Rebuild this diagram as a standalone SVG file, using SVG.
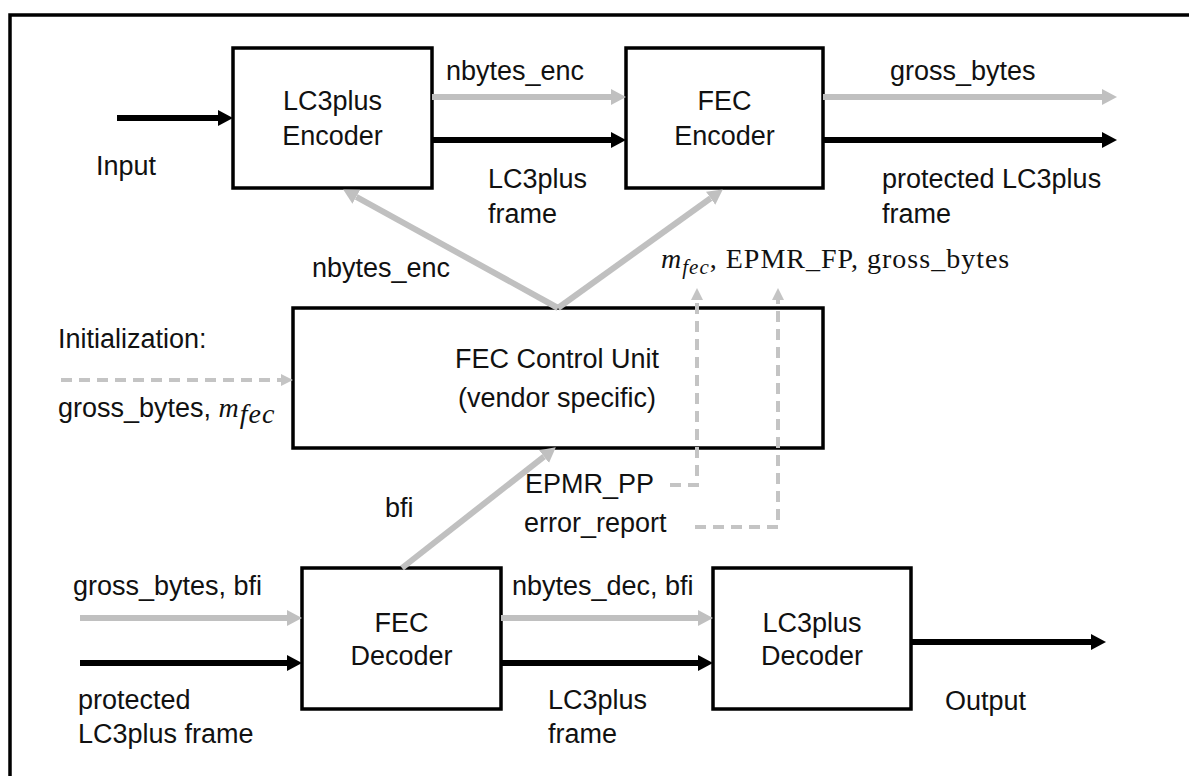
<svg xmlns="http://www.w3.org/2000/svg" width="1189" height="776" viewBox="0 0 1189 776">
<defs>
<style>
.box{fill:#fff;stroke:#000;stroke-width:3.5}
.t{font-family:"Liberation Sans",Arial,sans-serif;font-size:27px;fill:#111}
.c{text-anchor:middle}
.m{font-family:"Liberation Serif","Times New Roman",serif;font-size:28px;fill:#111}
.blk{stroke:#000;stroke-width:6;fill:none}
.gry{stroke:#c0c0c0;stroke-width:6;fill:none}
.dsh{stroke:#c4c4c4;stroke-width:4;fill:none;stroke-dasharray:11 7}
</style>
<marker id="ab" markerUnits="userSpaceOnUse" markerWidth="16" markerHeight="18" refX="0" refY="9" orient="auto"><path d="M0,1 L15,9 L0,17 z" fill="#000"/></marker>
<marker id="ag" markerUnits="userSpaceOnUse" markerWidth="16" markerHeight="18" refX="0" refY="9" orient="auto"><path d="M0,1 L15,9 L0,17 z" fill="#c0c0c0"/></marker>
<marker id="ad" markerUnits="userSpaceOnUse" markerWidth="14" markerHeight="14" refX="0" refY="7" orient="auto"><path d="M0,1 L12,7 L0,13 z" fill="#c4c4c4"/></marker>
</defs>
<rect width="1189" height="776" fill="#fff"/>
<path d="M10,776 L10,15 L1189,15" fill="none" stroke="#000" stroke-width="3.5"/>

<g id="lc3plus-encoder">
<rect class="box" x="233" y="48" width="199" height="140"/>
<text class="t c" x="332.5" y="110">LC3plus</text>
<text class="t c" x="332.5" y="145">Encoder</text>
</g>
<g id="fec-encoder">
<rect class="box" x="626" y="48" width="197" height="140"/>
<text class="t c" x="724.5" y="110">FEC</text>
<text class="t c" x="724.5" y="145">Encoder</text>
</g>
<g id="fec-control-unit">
<rect class="box" x="293" y="308" width="530" height="140"/>
<text class="t c" x="557" y="368">FEC Control Unit</text>
<text class="t c" x="557" y="407">(vendor specific)</text>
</g>
<g id="fec-decoder">
<rect class="box" x="302" y="568" width="199" height="141"/>
<text class="t c" x="401.5" y="632">FEC</text>
<text class="t c" x="401.5" y="665">Decoder</text>
</g>
<g id="lc3plus-decoder">
<rect class="box" x="713" y="568" width="198" height="141"/>
<text class="t c" x="812" y="632">LC3plus</text>
<text class="t c" x="812" y="665">Decoder</text>
</g>

<g id="connectors">
<line class="blk" x1="117" y1="118" x2="218" y2="118" marker-end="url(#ab)"/>
<line class="gry" x1="432" y1="97" x2="611" y2="97" marker-end="url(#ag)"/>
<line class="blk" x1="432" y1="140" x2="611" y2="140" marker-end="url(#ab)"/>
<line class="gry" x1="823" y1="97" x2="1102" y2="97" marker-end="url(#ag)"/>
<line class="blk" x1="823" y1="140" x2="1102" y2="140" marker-end="url(#ab)"/>
<line class="gry" x1="558" y1="308" x2="356.3" y2="196.8" marker-end="url(#ag)"/>
<line class="gry" x1="558" y1="308" x2="710.6" y2="198.2" marker-end="url(#ag)"/>
<line class="gry" x1="402" y1="568" x2="544" y2="456.6" marker-end="url(#ag)"/>
<line class="gry" x1="80" y1="618" x2="287" y2="618" marker-end="url(#ag)"/>
<line class="blk" x1="80" y1="663" x2="287" y2="663" marker-end="url(#ab)"/>
<line class="gry" x1="501" y1="618" x2="698" y2="618" marker-end="url(#ag)"/>
<line class="blk" x1="501" y1="663" x2="698" y2="663" marker-end="url(#ab)"/>
<line class="blk" x1="911" y1="642" x2="1091" y2="642" marker-end="url(#ab)"/>
<line class="dsh" x1="61" y1="380" x2="281" y2="380" marker-end="url(#ad)"/>
<path class="dsh" d="M670,485 L697,485 L697,300" marker-end="url(#ad)"/>
<path class="dsh" d="M695,527 L778,527 L778,300" marker-end="url(#ad)"/>
</g>

<g id="labels">
<text class="t" x="96" y="175">Input</text>
<text class="t" x="446" y="80">nbytes_enc</text>
<text class="t" x="488" y="188">LC3plus</text>
<text class="t" x="488" y="223">frame</text>
<text class="t" x="890" y="80">gross_bytes</text>
<text class="t" x="882" y="188">protected LC3plus</text>
<text class="t" x="882" y="223">frame</text>
<text class="t" x="312" y="277">nbytes_enc</text>
<text class="m" x="661" y="268" letter-spacing="1"><tspan font-style="italic">m</tspan><tspan font-style="italic" font-size="21" dy="6">fec</tspan><tspan dy="-6">, EPMR_FP, gross_bytes</tspan></text>
<text class="t" x="58" y="348">Initialization:</text>
<text class="t" x="58" y="417">gross_bytes, <tspan class="m" font-style="italic" letter-spacing="1">m</tspan><tspan class="m" font-style="italic" font-size="21" dy="6" letter-spacing="1">fec</tspan></text>
<text class="t" x="525" y="493">EPMR_PP</text>
<text class="t" x="524" y="532">error_report</text>
<text class="t" x="385" y="517">bfi</text>
<text class="t" x="73" y="595">gross_bytes, bfi</text>
<text class="t" x="512" y="595">nbytes_dec, bfi</text>
<text class="t" x="78" y="709">protected</text>
<text class="t" x="78" y="743">LC3plus frame</text>
<text class="t" x="548" y="709">LC3plus</text>
<text class="t" x="548" y="743">frame</text>
<text class="t" x="945" y="710">Output</text>
</g>
</svg>
